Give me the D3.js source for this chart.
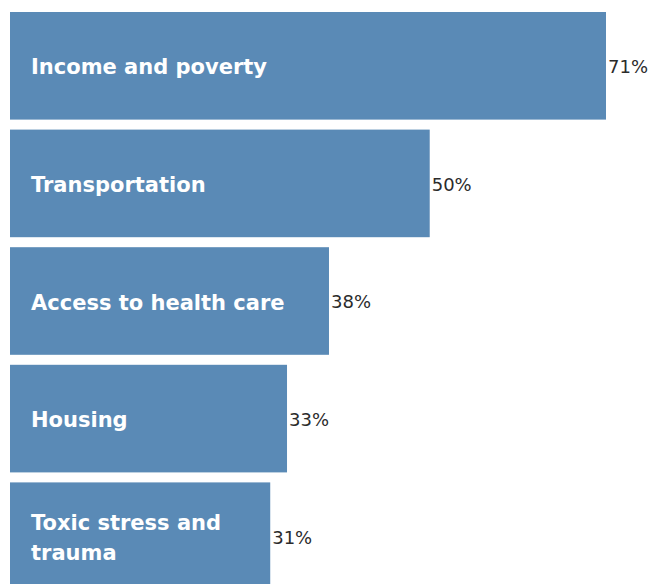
<!DOCTYPE html>
<html>
<head>
<meta charset="utf-8">
<script src="https://cdn.jsdelivr.net/npm/d3@7"></script>
<style>
  html, body { margin: 0; padding: 0; background: #fff; overflow: hidden; }
  svg { display: block; }
</style>
</head>
<body>
<svg id="chart" width="653" height="584"></svg>
<script>
// Share of respondents naming each issue
const categories = [
  ["Income and poverty"],
  ["Transportation"],
  ["Access to health care"],
  ["Housing"],
  ["Toxic stress and", "trauma"]
];
const values = [71, 50, 38, 33, 31];
const valueLabels = ["71%", "50%", "38%", "33%", "31%"];

const svg = d3.select("#chart");
const barColor = "#5a8ab6";

const x = d3.scaleLinear()
  .domain([0, d3.max(values)])
  .range([10, 606]);

const y = d3.scaleBand()
  .domain(d3.range(values.length))
  .range([12, 590])
  .paddingInner(0.085)
  .paddingOuter(0);

const rows = svg.selectAll("g.row")
  .data(values)
  .join("g")
  .attr("class", "row");

rows.append("rect")
  .attr("x", x(0))
  .attr("y", (d, i) => y(i))
  .attr("width", d => x(d) - x(0))
  .attr("height", y.bandwidth())
  .attr("fill", barColor);

// Category names inside the bars
rows.append("text")
  .attr("font-family", "'DejaVu Sans', sans-serif")
  .attr("font-weight", "bold")
  .attr("font-size", 21)
  .attr("fill", "#fff")
  .each(function (d, i) {
    const lines = categories[i];
    const lh = 30;
    const cy = y(i) + y.bandwidth() / 2 + 1;
    const first = cy - (lines.length - 1) * lh / 2;
    d3.select(this).selectAll("tspan")
      .data(lines)
      .join("tspan")
      .attr("x", 31)
      .attr("y", (t, k) => first + k * lh)
      .attr("dy", "0.36em")
      .text(t => t);
  });

// Value labels at the bar ends
rows.append("text")
  .attr("x", d => x(d) + 2)
  .attr("y", (d, i) => y(i) + y.bandwidth() / 2 + 1)
  .attr("dy", "0.36em")
  .attr("font-family", "'DejaVu Sans', sans-serif")
  .attr("font-size", 18)
  .attr("fill", "#2b2b2b")
  .text((d, i) => valueLabels[i]);
</script>
</body>
</html>
